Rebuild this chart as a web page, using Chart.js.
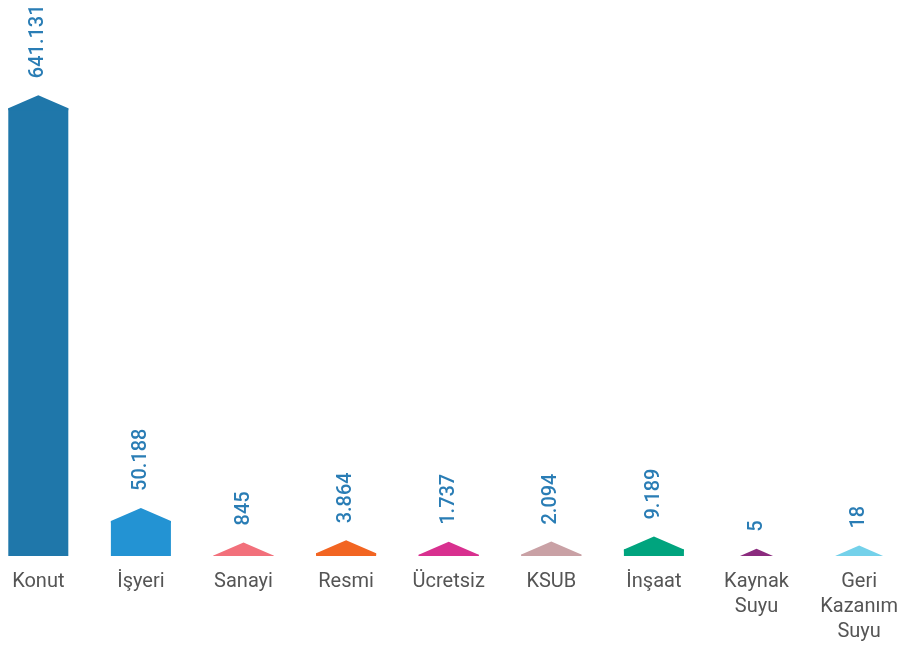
<!DOCTYPE html>
<html>
<head>
<meta charset="utf-8">
<script src="https://cdn.jsdelivr.net/npm/chart.js@4/dist/chart.umd.min.js"></script>
<style>
  html, body { margin: 0; padding: 0; background: #fff; overflow: hidden; }
  #wrap { position: absolute; left: -13px; top: 0; width: 924px; height: 646px; }
</style>
</head>
<body>
<div id="wrap"><canvas id="chart"></canvas></div>
<script>
// Abone sayilari by category
var categories = ['Konut', 'İşyeri', 'Sanayi', 'Resmi', 'Ücretsiz', 'KSUB', 'İnşaat', ['Kaynak', 'Suyu'], ['Geri', 'Kazanım', 'Suyu']];
var values = [641131, 50188, 845, 3864, 1737, 2094, 9189, 5, 18];

var barColors = ['#1f77aa', '#2393d3', '#f2707b', '#f26522', '#d8308f', '#c9a1a5', '#00a47e', '#8b2b7e', '#74d1ea'];
var roofScale = [1, 1, 1, 1, 1, 1, 1, 0.55, 0.8];

function formatTr(n) {
  return String(n).replace(/\B(?=(\d{3})+(?!\d))/g, '.');
}

// draws the house roof on each bar and the rotated value label above it
var roofPlugin = {
  id: 'roofs',
  afterDatasetsDraw: function (chart) {
    var ctx = chart.ctx;
    var meta = chart.getDatasetMeta(0);
    meta.data.forEach(function (bar, i) {
      var s = roofScale[i];
      var w = bar.width * s;
      var h = 13 * s;
      var top = bar.y;
      var foot = Math.min(top + 2, bar.base);
      ctx.save();
      ctx.fillStyle = barColors[i];
      ctx.beginPath();
      ctx.moveTo(bar.x - w / 2, foot);
      ctx.lineTo(bar.x - w / 2, top);
      ctx.lineTo(bar.x, top - h);
      ctx.lineTo(bar.x + w / 2, top);
      ctx.lineTo(bar.x + w / 2, foot);
      ctx.closePath();
      ctx.fill();

      ctx.translate(bar.x, top - h - 17);
      ctx.rotate(-Math.PI / 2);
      ctx.fillStyle = '#2a7db5';
      ctx.font = '500 20px Roboto';
      ctx.textAlign = 'left';
      ctx.textBaseline = 'middle';
      ctx.fillText(formatTr(values[i]), 0, 0);
      ctx.restore();
    });
  }
};

new Chart(document.getElementById('chart'), {
  type: 'bar',
  data: {
    labels: categories,
    datasets: [{
      data: values,
      backgroundColor: barColors,
      borderWidth: 0,
      barPercentage: 0.585,
      categoryPercentage: 1
    }]
  },
  options: {
    responsive: true,
    maintainAspectRatio: false,
    animation: false,
    layout: { padding: { top: 0, bottom: -11, left: 0, right: 0 } },
    plugins: {
      legend: { display: false },
      tooltip: { enabled: false }
    },
    scales: {
      x: {
        grid: { display: false, drawTicks: false },
        border: { display: false },
        ticks: {
          color: '#555',
          padding: 13,
          maxRotation: 0,
          autoSkip: false,
          font: { family: 'Roboto', size: 20, lineHeight: 1.25 }
        }
      },
      y: {
        display: false,
        min: 0,
        max: 796000
      }
    }
  },
  plugins: [roofPlugin]
});
</script>
</body>
</html>
